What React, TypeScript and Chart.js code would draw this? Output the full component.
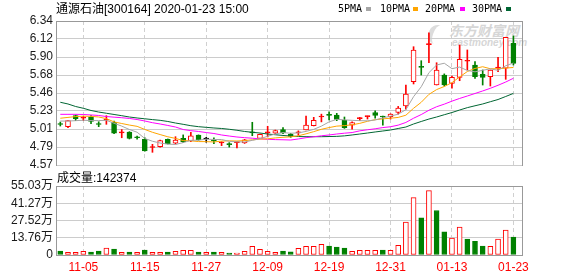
import React, { useEffect, useRef } from 'react';
import { Chart, registerables } from 'chart.js';

Chart.register(...registerables);

// ---- data ----
const OPEN = [5.075, 5.041, 5.176, 5.145, 5.156, 5.075, 5.12, 5.095, 4.965, 4.976, 4.915, 4.887, 4.785, 4.795, 4.886, 4.837, 4.898, 4.865, 4.939, 4.89, 4.872, 4.84, 4.828, 4.845, 4.84, 4.975, 4.898, 4.965, 4.96, 5.005, 4.95, 4.965, 5.0, 5.054, 5.16, 5.183, 5.185, 5.12, 5.06, 5.14, 5.165, 5.215, 5.165, 5.163, 5.215, 5.295, 5.594, 5.78, 6.05, 5.553, 5.676, 5.574, 5.648, 5.845, 5.799, 5.685, 5.655, 5.76, 5.759, 6.066];
const HIGH = [5.098, 5.115, 5.185, 5.169, 5.176, 5.102, 5.176, 5.111, 5.006, 4.98, 4.927, 4.905, 4.824, 4.877, 4.89, 4.918, 4.94, 4.972, 4.94, 4.91, 4.905, 4.857, 4.845, 4.855, 4.885, 5.095, 4.95, 5.046, 5.0, 5.03, 4.96, 4.99, 5.172, 5.156, 5.195, 5.225, 5.205, 5.16, 5.102, 5.155, 5.172, 5.235, 5.17, 5.2, 5.29, 5.553, 6.024, 5.852, 6.196, 5.827, 5.69, 5.664, 6.045, 5.984, 5.84, 5.738, 5.738, 5.894, 6.14, 6.156];
const LOW = [5.049, 5.029, 5.115, 5.115, 5.078, 5.041, 5.07, 4.955, 4.905, 4.89, 4.886, 4.74, 4.726, 4.788, 4.828, 4.828, 4.845, 4.857, 4.875, 4.85, 4.832, 4.808, 4.79, 4.78, 4.835, 4.93, 4.895, 4.915, 4.955, 4.955, 4.91, 4.935, 5.0, 5.05, 5.1, 5.125, 5.115, 5.02, 5.01, 5.115, 5.135, 5.145, 5.06, 5.135, 5.195, 5.255, 5.566, 5.676, 5.827, 5.553, 5.54, 5.513, 5.606, 5.738, 5.635, 5.553, 5.541, 5.717, 5.623, 5.799];
const CLOSE = [5.068, 5.115, 5.139, 5.15, 5.107, 5.068, 5.13, 4.96, 4.975, 4.896, 4.905, 4.742, 4.79, 4.869, 4.83, 4.877, 4.857, 4.93, 4.88, 4.89, 4.865, 4.85, 4.82, 4.85, 4.88, 4.965, 4.948, 4.972, 4.993, 4.965, 4.92, 4.975, 5.062, 5.12, 5.165, 5.18, 5.13, 5.03, 5.09, 5.145, 5.172, 5.18, 5.16, 5.195, 5.27, 5.443, 5.984, 5.77, 6.06, 5.738, 5.553, 5.648, 5.869, 5.852, 5.655, 5.648, 5.738, 5.77, 6.14, 5.82];

const VOLUME = [32000, 22000, 22000, 30000, 24000, 32000, 56000, 48000, 22000, 24000, 22000, 40000, 22000, 22000, 24000, 30000, 38000, 38000, 24000, 22000, 24000, 22000, 16000, 16000, 30000, 70000, 46000, 30000, 22000, 32000, 26000, 54000, 70000, 70000, 86000, 72000, 64000, 56000, 30000, 38000, 38000, 38000, 40000, 38000, 78000, 263000, 457000, 296000, 513000, 355000, 185000, 134000, 223000, 126000, 110000, 72000, 70000, 126000, 199000, 142374];
const VOL_UP = [0, 1, 1, 1, 0, 0, 1, 0, 1, 0, 1, 0, 1, 1, 0, 1, 1, 1, 0, 1, 0, 1, 0, 1, 1, 1, 1, 1, 1, 0, 0, 1, 1, 1, 1, 0, 0, 0, 1, 1, 1, 1, 0, 1, 1, 1, 1, 0, 1, 0, 0, 1, 1, 0, 0, 0, 1, 1, 1, 0];

const MA5 = [5.11, 5.11, 5.115, 5.12, 5.116, 5.116, 5.119, 5.083, 5.048, 5.006, 4.973, 4.896, 4.862, 4.84, 4.827, 4.822, 4.845, 4.873, 4.875, 4.887, 4.884, 4.883, 4.861, 4.855, 4.853, 4.873, 4.893, 4.923, 4.952, 4.969, 4.96, 4.965, 4.983, 5.008, 5.048, 5.1, 5.131, 5.125, 5.119, 5.115, 5.113, 5.123, 5.149, 5.17, 5.195, 5.25, 5.41, 5.532, 5.705, 5.799, 5.821, 5.754, 5.774, 5.732, 5.715, 5.734, 5.752, 5.733, 5.79, 5.823];
const MA10 = [5.145, 5.155, 5.165, 5.17, 5.168, 5.16, 5.14, 5.1, 5.08, 5.061, 5.045, 5.007, 4.972, 4.944, 4.917, 4.897, 4.87, 4.867, 4.858, 4.857, 4.853, 4.864, 4.867, 4.865, 4.87, 4.879, 4.888, 4.892, 4.903, 4.911, 4.916, 4.929, 4.953, 4.98, 5.009, 5.03, 5.048, 5.054, 5.064, 5.082, 5.107, 5.127, 5.137, 5.145, 5.155, 5.182, 5.267, 5.341, 5.438, 5.497, 5.535, 5.582, 5.653, 5.719, 5.757, 5.778, 5.753, 5.753, 5.761, 5.769];
const MA20 = [5.193, 5.193, 5.193, 5.191, 5.185, 5.179, 5.166, 5.158, 5.151, 5.142, 5.129, 5.111, 5.09, 5.074, 5.056, 5.037, 5.006, 4.992, 4.982, 4.969, 4.957, 4.939, 4.926, 4.914, 4.906, 4.899, 4.892, 4.886, 4.882, 4.88, 4.877, 4.89, 4.906, 4.917, 4.929, 4.939, 4.951, 4.961, 4.969, 4.99, 5.003, 5.015, 5.03, 5.04, 5.06, 5.093, 5.145, 5.19, 5.243, 5.286, 5.318, 5.355, 5.388, 5.418, 5.449, 5.48, 5.513, 5.55, 5.59, 5.636];
const MA30 = [5.341, 5.32, 5.289, 5.267, 5.24, 5.221, 5.206, 5.191, 5.176, 5.16, 5.148, 5.138, 5.128, 5.119, 5.105, 5.086, 5.07, 5.053, 5.041, 5.033, 5.025, 5.019, 5.009, 4.997, 4.982, 4.972, 4.963, 4.951, 4.942, 4.933, 4.926, 4.92, 4.918, 4.918, 4.918, 4.92, 4.922, 4.928, 4.939, 4.951, 4.963, 4.976, 4.988, 5.0, 5.019, 5.037, 5.074, 5.105, 5.135, 5.16, 5.188, 5.215, 5.246, 5.275, 5.298, 5.32, 5.348, 5.375, 5.412, 5.45];

const PRICE_MIN = 4.57;
const PRICE_MAX = 6.34;
const PRICE_TICKS = ['4.57', '4.79', '5.01', '5.23', '5.46', '5.68', '5.90', '6.12', '6.34'];
const VOL_MAX = 550300;
const VOL_TICKS = ['0', '13.76万', '27.52万', '41.27万', '55.03万'];
const DATE_TICK_INDEX = [3, 11, 19, 27, 35, 43, 51, 59];
const DATE_TICK_LABELS = ['11-05', '11-15', '11-27', '12-09', '12-19', '12-31', '01-13', '01-23'];
const X_MIN = -0.56;
const X_MAX = 60.12;

const TITLE = '通源石油[300164] 2020-01-23 15:00';
const VOL_TITLE = '成交量:142374';
const MA_NAMES = ['5PMA', '10PMA', '20PMA', '30PMA'];

// ---- styles ----
const RED = '#ff0000';
const GREEN = '#008000';
const FLAT = '#000000';
const MA_COLORS = ['#a6a6a6', '#ffa500', '#ff00ff', '#006633'];

Chart.defaults.font.family = "'Liberation Sans', Arial, sans-serif";

const candleColor = (i: number) =>
  CLOSE[i] > OPEN[i] ? RED : CLOSE[i] < OPEN[i] ? GREEN : FLAT;

const bodyFill = (i: number) => {
  if (CLOSE[i] < OPEN[i]) return GREEN;
  if (CLOSE[i] === OPEN[i]) return FLAT;
  return CLOSE[i] - OPEN[i] < 0.012 ? RED : '#ffffff';
};

const framePlugin = (sides: string[]) => ({
  id: 'frame',
  afterDraw(chart: any) {
    const { ctx, chartArea: a } = chart;
    ctx.save();
    ctx.strokeStyle = '#999999';
    ctx.lineWidth = 1;
    ctx.setLineDash([]);
    ctx.beginPath();
    if (sides.includes('top')) {
      ctx.moveTo(a.left, a.top + 0.5);
      ctx.lineTo(a.right + 1, a.top + 0.5);
    }
    if (sides.includes('right')) {
      ctx.moveTo(a.right + 0.5, a.top);
      ctx.lineTo(a.right + 0.5, a.bottom + 1);
    }
    if (sides.includes('bottom')) {
      ctx.moveTo(a.left, a.bottom + 0.5);
      ctx.lineTo(a.right + 1, a.bottom + 0.5);
    }
    ctx.stroke();
    ctx.restore();
  },
});

const xScale = (showLabels: boolean, height: number) => ({
  type: 'linear' as const,
  min: X_MIN,
  max: X_MAX,
  offset: false,
  afterBuildTicks: (s: any) => {
    s.ticks = DATE_TICK_INDEX.map((v) => ({ value: v }));
  },
  afterFit: (s: any) => {
    s.height = height;
  },
  ticks: {
    display: showLabels,
    autoSkip: false,
    maxRotation: 0,
    padding: 5,
    color: RED,
    font: { size: 12 },
    callback: (_v: any, idx: number) => DATE_TICK_LABELS[idx],
  },
  grid: { color: '#d0d0d0', offset: false, drawTicks: false, tickLength: 0 },
  border: { display: false, dash: [4, 3] },
});

export default function App() {
  const priceRef = useRef<HTMLCanvasElement>(null);
  const volRef = useRef<HTMLCanvasElement>(null);

  useEffect(() => {
    const idx = OPEN.map((_, i) => i);
    const priceChart = new Chart(priceRef.current as HTMLCanvasElement, {
      type: 'bar',
      data: {
        datasets: [
          ...[MA5, MA10, MA20, MA30].map((arr, k) => ({
            type: 'line' as const,
            label: MA_NAMES[k],
            data: arr.map((v, i) => ({ x: i, y: v })),
            borderColor: MA_COLORS[k],
            borderWidth: 1,
            pointRadius: 0,
            tension: 0,
            fill: false,
            order: 0,
          })),
          {
            type: 'bar' as const,
            label: 'body',
            data: idx.map((i) => ({ x: i, y: [OPEN[i], CLOSE[i]] })),
            backgroundColor: idx.map(bodyFill),
            borderColor: idx.map(candleColor),
            borderWidth: 1,
            borderSkipped: false,
            barThickness: 5,
            minBarLength: 1,
            grouped: false,
            order: 1,
          },
          {
            type: 'bar' as const,
            label: 'wick',
            data: idx.map((i) => ({ x: i, y: [LOW[i], HIGH[i]] })),
            backgroundColor: idx.map(candleColor),
            borderWidth: 0,
            barThickness: 1,
            grouped: false,
            order: 2,
          },
        ] as any,
      },
      options: {
        animation: false,
        responsive: false,
        maintainAspectRatio: false,
        events: [],
        layout: { padding: { top: 21, right: 56, bottom: 111, left: 0 } },
        plugins: { legend: { display: false }, tooltip: { enabled: false }, title: { display: false } },
        scales: {
          x: xScale(false, 0) as any,
          y: {
            type: 'linear',
            min: PRICE_MIN,
            max: PRICE_MAX,
            beginAtZero: false,
            afterBuildTicks: (s: any) => {
              const n = PRICE_TICKS.length - 1;
              s.ticks = PRICE_TICKS.map((_, k) => ({ value: PRICE_MIN + ((PRICE_MAX - PRICE_MIN) * k) / n }));
            },
            afterFit: (s: any) => {
              s.width = 56;
            },
            ticks: {
              autoSkip: false,
              padding: 3,
              color: '#1a1a1a',
              font: { size: 12 },
              callback: (_v: any, i: number) => PRICE_TICKS[i],
            },
            grid: { color: '#cccccc', drawTicks: false, tickLength: 0 },
            border: { color: '#999999' },
          } as any,
        },
      },
      plugins: [framePlugin(['top', 'right'])],
    });

    const volChart = new Chart(volRef.current as HTMLCanvasElement, {
      type: 'bar',
      data: {
        datasets: [
          {
            label: 'volume',
            data: VOLUME.map((v, i) => ({ x: i, y: v })),
            backgroundColor: VOL_UP.map((u) => (u ? '#ffffff' : GREEN)),
            borderColor: VOL_UP.map((u) => (u ? RED : GREEN)),
            borderWidth: 1,
            borderSkipped: false,
            barThickness: 5,
            grouped: false,
          },
        ] as any,
      },
      options: {
        animation: false,
        responsive: false,
        maintainAspectRatio: false,
        events: [],
        layout: { padding: { top: 186, right: 56, bottom: 0, left: 0 } },
        plugins: { legend: { display: false }, tooltip: { enabled: false }, title: { display: false } },
        scales: {
          x: xScale(true, 21) as any,
          y: {
            type: 'linear',
            min: 0,
            max: VOL_MAX,
            afterBuildTicks: (s: any) => {
              const n = VOL_TICKS.length - 1;
              s.ticks = VOL_TICKS.map((_, k) => ({ value: (VOL_MAX * k) / n }));
            },
            afterFit: (s: any) => {
              s.width = 56;
            },
            ticks: {
              autoSkip: false,
              padding: 3,
              color: '#1a1a1a',
              font: { size: 12, family: "'Liberation Sans', 'Noto Sans CJK SC', sans-serif" },
              callback: (_v: any, i: number) => VOL_TICKS[i],
            },
            grid: { color: '#cccccc', drawTicks: false, tickLength: 0 },
            border: { color: '#999999' },
          } as any,
        },
      },
      plugins: [framePlugin(['top', 'right', 'bottom'])],
    });

    return () => {
      priceChart.destroy();
      volChart.destroy();
    };
  }, []);

  const abs = { position: 'absolute' as const, left: 0, top: 0 };
  const legendX = [338, 380, 425, 472];
  const swatchX = [366, 413, 460, 506];

  return (
    <div
      style={{
        position: 'fixed',
        left: 0,
        top: 0,
        width: 578,
        height: 276,
        background: '#ffffff',
        overflow: 'hidden',
      }}
    >
      {/* watermark */}
      <div
        style={{
          position: 'absolute',
          left: 428,
          top: 25,
          width: 14,
          height: 20,
          borderLeft: '5px solid #dcdcdc',
          borderRadius: '50%',
          transform: 'rotate(20deg)',
        }}
      />
      <div
        style={{
          position: 'absolute',
          left: 449,
          top: 22,
          font: "italic bold 14px 'Noto Sans CJK SC', sans-serif",
          lineHeight: '17px',
          color: '#d6d6d6',
          whiteSpace: 'nowrap',
        }}
      >
        东方财富网
      </div>
      <div
        style={{
          position: 'absolute',
          left: 452,
          top: 37,
          font: "italic bold 10px 'Liberation Sans', sans-serif",
          lineHeight: '11px',
          color: '#d6d6d6',
          whiteSpace: 'nowrap',
        }}
      >
        eastmoney.com
      </div>

      <canvas ref={priceRef} width={578} height={276} style={abs} />
      <canvas ref={volRef} width={578} height={276} style={abs} />

      <div
        style={{
          position: 'absolute',
          left: 56,
          top: 2,
          font: "12px 'Liberation Sans', 'Noto Sans CJK SC', sans-serif",
          lineHeight: '14px',
          color: '#000',
          whiteSpace: 'nowrap',
        }}
      >
        {TITLE}
      </div>

      {MA_NAMES.map((name, k) => (
        <React.Fragment key={name}>
          <div
            style={{
              position: 'absolute',
              left: legendX[k],
              top: 3,
              font: "10px 'DejaVu Sans Mono', monospace",
              lineHeight: '12px',
              color: '#000',
              whiteSpace: 'nowrap',
            }}
          >
            {name}
          </div>
          <div
            style={{
              position: 'absolute',
              left: swatchX[k],
              top: 7,
              width: 5,
              height: 4,
              background: MA_COLORS[k],
            }}
          />
        </React.Fragment>
      ))}

      <div
        style={{
          position: 'absolute',
          left: 57,
          top: 171,
          font: "12px 'Liberation Sans', 'Noto Sans CJK SC', sans-serif",
          lineHeight: '14px',
          color: '#000',
          whiteSpace: 'nowrap',
        }}
      >
        {VOL_TITLE}
      </div>
    </div>
  );
}
